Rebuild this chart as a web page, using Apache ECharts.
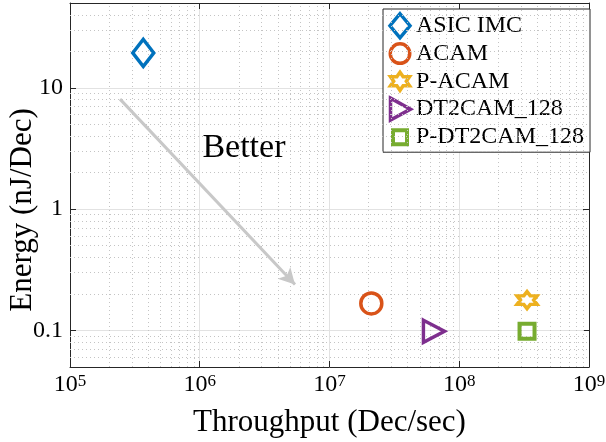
<!DOCTYPE html>
<html><head><meta charset="utf-8">
<script src="https://cdn.jsdelivr.net/npm/echarts@6/dist/echarts.min.js"></script>
<style>html,body{margin:0;padding:0;background:#fff}#c{width:606px;height:442px}</style>
</head><body><div id="c"></div>
<script>
// ---- data ----
const seriesNames = ['ASIC IMC', 'ACAM', 'P-ACAM', 'DT2CAM_128', 'P-DT2CAM_128'];
const throughput = [3.67e5, 2.1e7, 3.33e8, 6.38e7, 3.33e8];
const energy = [19.4, 0.167, 0.178, 0.0985, 0.0985];
const xTickValues = [1e5, 1e6, 1e7, 1e8, 1e9];
const xTickExponents = ['5', '6', '7', '8', '9'];
const yTickValues = [0.1, 1, 10];
const yTickLabels = ['0.1', '1', '10'];
const arrowStart = [2.43e5, 8.07];
const arrowEnd = [5.42e6, 0.239];
const annotationText = 'Better';
const annotationPos = [2.19e6, 3.2];
const xTitle = 'Throughput (Dec/sec)';
const yTitle = 'Energy (nJ/Dec)';

// ---- styles ----
const colors = ['#0072BD', '#D95319', '#EDB120', '#7E2F8E', '#77AC30'];
const FONT = 'Liberation Serif';
const AX = '#262626';

function hexagram(cx, cy, w, h) {
  const pts = [];
  for (let k = 0; k < 12; k++) {
    const ang = Math.PI / 2 - k * Math.PI / 6;
    const r = (k % 2 === 0) ? 1 : 1 / Math.sqrt(3);
    pts.push([cx + r * Math.cos(ang) * w / Math.sqrt(3), cy - r * Math.sin(ang) * h / 2]);
  }
  return 'M' + pts.map(p => p[0].toFixed(2) + ',' + p[1].toFixed(2)).join(' L') + ' Z';
}
const pad = 'M0,0 M22,26 ';
const legendIcons = [
  'path://' + pad + 'M11,1 L21,13 L11,25 L1,13 Z',
  'path://' + pad + 'M1.25,13 A9.75,9.75 0 1 1 20.75,13 A9.75,9.75 0 1 1 1.25,13 Z',
  'path://' + pad + hexagram(11, 13, 19, 18),
  'path://' + pad + 'M1.5,2 L21.5,13 L1.5,24 Z',
  'path://' + pad + 'M4,6 L18,6 L18,20 L4,20 Z'
];
const plotSymbols = [
  'diamond', 'circle', 'path://' + hexagram(50, 50, 86.6, 100), 'path://M0,0 L20,11 L0,22 Z', 'rect'
];
const plotSizes = [[21, 27], 21, [20, 17], [21, 22], 15];
const plotWidths = [3.5, 3.5, 3.5, 3.5, 4];

function matchTick(v, arr) {
  for (let i = 0; i < arr.length; i++) if (Math.abs(v / arr[i] - 1) < 1e-6) return i;
  return -1;
}
const xMinor = [];
for (let e = 5; e < 9; e++) for (let m = 2; m <= 9; m++) xMinor.push(m * Math.pow(10, e));
const yMinor = [];
for (let e = -2; e < 2; e++) for (let m = 2; m <= 9; m++) {
  const v = m * Math.pow(10, e);
  if (v > 0.0501 && v < 49.9) yMinor.push(v);
}

const series = seriesNames.map((n, i) => ({
  type: 'scatter', name: n, z: 5,
  data: [[throughput[i], energy[i]]],
  symbol: plotSymbols[i], symbolSize: plotSizes[i],
  itemStyle: { color: 'rgba(0,0,0,0)', borderColor: colors[i], borderWidth: plotWidths[i], opacity: 1 }
}));
series.push({
  type: 'scatter', name: '_grid', data: [], silent: true, z: 1,
  markLine: {
    silent: true, animation: false, symbol: ['none', 'none'], label: { show: false },
    lineStyle: { type: [1, 3], color: '#c4c4c4', width: 1 },
    emphasis: { disabled: true },
    data: xMinor.map(v => ({ xAxis: v })).concat(yMinor.map(v => ({ yAxis: v })))
  }
});
series.push({
  type: 'scatter', name: '_annot', data: [], silent: true, z: 4,
  markLine: {
    silent: true, animation: false, symbol: ['none', 'arrow'], symbolSize: [13, 16],
    label: { show: false }, emphasis: { disabled: true },
    lineStyle: { type: 'solid', color: '#c8c8c8', width: 3 },
    itemStyle: { color: '#c8c8c8' },
    data: [[{ coord: arrowStart }, { coord: arrowEnd }]]
  },
  markPoint: {
    silent: true, animation: false, symbol: 'circle', symbolSize: 1,
    itemStyle: { color: 'rgba(0,0,0,0)' },
    label: { show: true, position: 'inside', formatter: annotationText, fontFamily: FONT, fontSize: 34, color: '#000' },
    data: [{ coord: annotationPos }]
  }
});

const xLabelCfg = {
  show: true, margin: 6, color: '#000',
  formatter: v => { const i = matchTick(v, xTickValues); return i < 0 ? '' : '{b|10}{s|' + xTickExponents[i] + '}'; },
  rich: {
    b: { fontFamily: FONT, fontSize: 24, color: '#000' },
    s: { fontFamily: FONT, fontSize: 17, color: '#000', verticalAlign: 'top' }
  }
};
const yLabelCfg = {
  show: true, margin: 7, color: '#000', fontFamily: FONT, fontSize: 24,
  formatter: v => { const i = matchTick(v, yTickValues); return i < 0 ? '' : yTickLabels[i]; }
};
const axisLine = { show: true, lineStyle: { color: AX, width: 1 } };
const axisTick = { show: true, inside: true, length: 6, lineStyle: { color: AX, width: 1 } };
const split = { show: true, lineStyle: { color: '#e2e2e2', width: 1, type: 'solid' } };

const option = {
  animation: false,
  backgroundColor: '#fff',
  textStyle: { fontFamily: FONT },
  grid: { left: 70, right: 17, top: 3, bottom: 75, containLabel: false, outerBoundsMode: 'none' },
  legend: {
    orient: 'vertical', left: 383, top: 9, itemWidth: 22, itemHeight: 26, itemGap: -1.7,
    padding: [2, 6, 0, 4], backgroundColor: '#fff', borderColor: AX, borderWidth: 1,
    selectedMode: false, symbolKeepAspect: true,
    textStyle: { fontFamily: FONT, fontSize: 24, color: '#000' },
    data: seriesNames.map((n, i) => ({
      name: n, icon: legendIcons[i],
      itemStyle: { color: 'rgba(0,0,0,0)', borderColor: colors[i], borderWidth: plotWidths[i] }
    }))
  },
  xAxis: [
    {
      type: 'log', logBase: 10, min: xTickValues[0], max: xTickValues[xTickValues.length - 1], position: 'bottom',
      name: xTitle, nameLocation: 'middle', nameGap: 40, nameMoveOverlap: false,
      nameTextStyle: { fontFamily: FONT, fontSize: 31, color: '#000' },
      axisLine, axisTick, axisLabel: xLabelCfg, splitLine: split, minorTick: { show: false }, minorSplitLine: { show: false }
    },
    {
      type: 'log', logBase: 10, min: xTickValues[0], max: xTickValues[xTickValues.length - 1], position: 'top',
      axisLine, axisTick, axisLabel: { show: false }, splitLine: { show: false }
    }
  ],
  yAxis: [
    {
      type: 'log', logBase: 10, min: 0.05, max: 50, position: 'left',
      name: yTitle, nameLocation: 'middle', nameGap: 32, nameMoveOverlap: false,
      nameTextStyle: { fontFamily: FONT, fontSize: 31, color: '#000', padding: [0, 50, 0, 0] },
      axisLine, axisTick, axisLabel: yLabelCfg, splitLine: split, minorTick: { show: false }, minorSplitLine: { show: false }
    },
    {
      type: 'log', logBase: 10, min: 0.05, max: 50, position: 'right',
      axisLine, axisTick, axisLabel: { show: false }, splitLine: { show: false }
    }
  ],
  series
};
const chart = echarts.init(document.getElementById('c'), null, { renderer: 'canvas' });
chart.setOption(option);
</script></body></html>
